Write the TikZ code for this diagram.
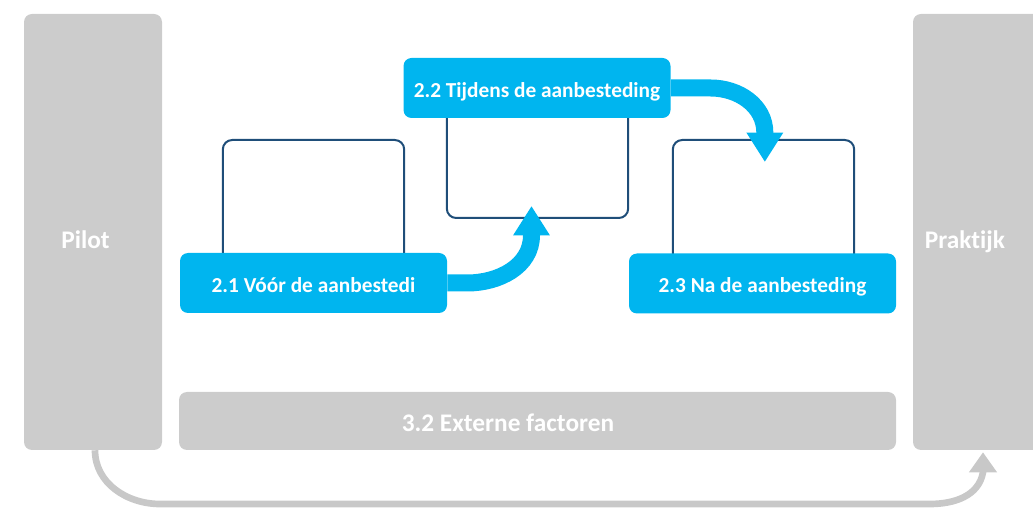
\documentclass[tikz,border=0pt]{standalone}
\usepackage{fontspec}
\setmainfont{Carlito}[Ligatures=NoCommon]
\usetikzlibrary{arrows.meta}
\definecolor{cyanbox}{HTML}{00B5EF}
\definecolor{darkline}{HTML}{1F4E79}
\definecolor{greybox}{HTML}{CCCCCC}
\definecolor{greyarrow}{HTML}{C8C8C8}

\begin{document}
\begin{tikzpicture}[x=0.75pt, y=-0.75pt,
  greyblock/.style={fill=greybox, rounded corners=6pt, inner sep=0pt},
  greytext/.style={text=white, text height=13pt, text depth=0pt, font=\bfseries\fontsize{19}{22}\selectfont},
  bluebox/.style={fill=cyanbox, rounded corners=6pt, minimum width=200.25pt, minimum height=45pt,
                  text height=14pt, text depth=0pt,
                  text=white, font=\bfseries\fontsize{16}{19}\selectfont},
  outlinebox/.style={draw=darkline, line width=1.5pt, rounded corners=7pt, fill=white,
                  minimum width=136pt, minimum height=97.5pt},
  bigarrow/.style={cyanbox, line width=12.75pt, -{Triangle[width=26pt,length=22pt]}}]

\useasboundingbox (0,0) rectangle (1033,513);

% -------- grey side blocks -----------
\node [greyblock, minimum width=103.5pt, minimum height=327pt] (pilot) at (93,232) {};
\node [greyblock, minimum width=105pt, minimum height=327pt] (praktijk) at (983,232) {};
\node [greyblock, minimum width=537.75pt, minimum height=43.5pt] (extern) at (537.5,421) {};

\node [greytext] (pilotlabel)    at (85.5,239.5)  {Pilot};
\node [greytext] (praktijklabel) at (965,239.5) {Praktijk};
\node [greytext] (externlabel)   at (508,422.5) {3.2 Externe factoren};

% -------- outline boxes -----------
\node [outlinebox] (voor)   at (313.5,205) {};
\node [outlinebox, minimum height=88.5pt] (tijdens) at (537.5,159) {};
\node [outlinebox] (na)     at (763.5,205) {};

% -------- blue labels -----------
\node [bluebox] (voorlabel)    at (313.5,283) {2.1 Vóór de aanbestedi};
\node [bluebox] (tijdenslabel) at (537,88)    {2.2 Tijdens de aanbesteding};
\node [bluebox] (nalabel)      at (762.5,283.5) {2.3 Na de aanbesteding};

% -------- arrows -----------
\coordinate (tipone) at ([xshift=-4.5pt, yshift=9.75pt]tijdens.south);
\coordinate (tiptwo) at ([xshift=1pt, yshift=-17.25pt]na.north);

\draw [bigarrow] (voorlabel.east) -- ++(20,0) to[out=0,in=-90] ([yshift=-22pt]tipone) -- (tipone);
\draw [bigarrow] (tijdenslabel.east) -- ++(40,0) to[out=0,in=90] ([yshift=22pt]tiptwo) -- (tiptwo);

\coordinate (startgrey) at ([xshift=1.5pt]pilot.south);
\coordinate (tipgrey)   at ([xshift=0pt, yshift=-1.5pt]praktijk.south);
\draw [greyarrow, line width=5pt, -{Triangle[width=20pt,length=15pt]}]
  (startgrey) to[out=-90,in=180] (160,504) -- (930,504) to[out=0,in=-100] ([yshift=-15pt]tipgrey) -- (tipgrey);

\end{tikzpicture}
\end{document}
